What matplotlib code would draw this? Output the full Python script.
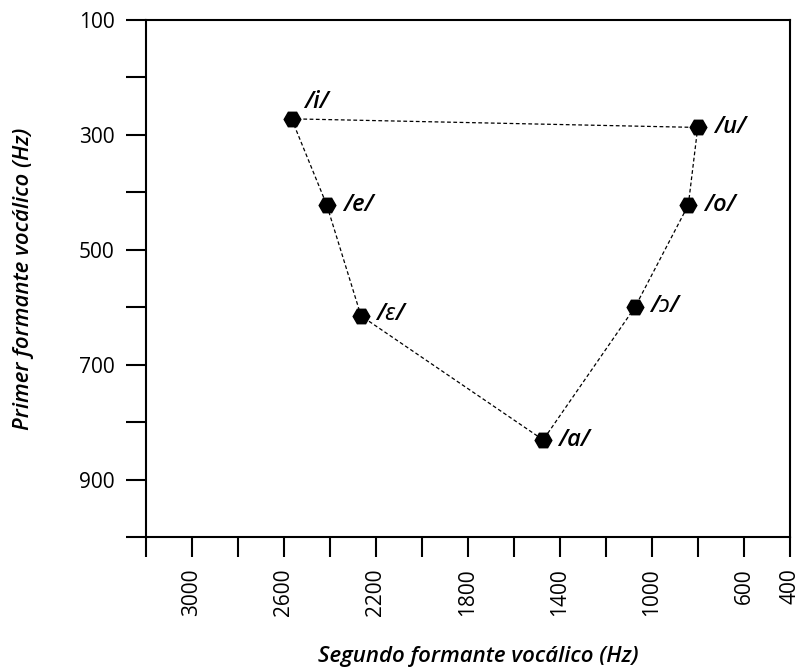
import matplotlib.pyplot as plt

plt.rcParams['font.family'] = ['Open Sans', 'Noto Sans', 'DejaVu Sans']

# Datos de formantes (Hz)
vocales = ["/i/", "/e/", "/ɛ/", "/a/", "/ɔ/", "/o/", "/u/"]
f2 = [2567, 2414, 2265, 1473, 1074, 842, 801]
f1 = [272, 422, 615, 831, 600, 422, 287]

# desplazamiento de cada etiqueta (puntos)
offsets = [(9, 12), (12, 0), (11, 1), (11, 0), (11, 1), (11, 0), (12, 0)]

xticks = [3200, 3000, 2800, 2600, 2400, 2200, 2000, 1800, 1600, 1400, 1200, 1000, 800, 600, 400]
xlabels = ["", "3000", "", "2600", "", "2200", "", "1800", "", "1400", "", "1000", "", "600", "400"]
yticks = [100, 200, 300, 400, 500, 600, 700, 800, 900, 1000]
ylabels = ["100", "", "300", "", "500", "", "700", "", "900", ""]

fig = plt.figure(figsize=(7.99, 6.72), dpi=100)
ax = fig.add_axes([0.1827, 0.2009, 0.806, 0.7693])

# Polígono vocálico cerrado
xs = f2 + [f2[0]]
ys = f1 + [f1[0]]
ax.plot(xs, ys, color='black', linewidth=0.9, linestyle=(0, (3, 2)), zorder=1)
ax.plot(f2, f1, linestyle='none', marker='H', markersize=12, color='black', zorder=2)

for v, x, y, off in zip(vocales, f2, f1, offsets):
    ax.annotate(v, (x, y), xytext=off, textcoords='offset points',
                ha='left', va='center', fontsize=17, fontstyle='italic',
                fontweight='semibold')

ax.set_xlim(3200, 400)
ax.set_ylim(1000, 100)
ax.set_xticks(xticks)
ax.set_xticklabels(xlabels, rotation=90, fontsize=15)
ax.set_yticks(yticks)
ax.set_yticklabels(ylabels, fontsize=15)
ax.tick_params(direction='out', length=14.5, width=1.5, pad=8)

for sp in ax.spines.values():
    sp.set_linewidth(1.5)

ax.set_xlabel("Segundo formante vocálico (Hz)", fontsize=16, fontstyle='italic',
              fontweight='semibold')
ax.xaxis.set_label_coords(0.516, -0.21)
ax.set_ylabel("Primer formante vocálico (Hz)", fontsize=16, fontstyle='italic',
              fontweight='semibold')
ax.yaxis.set_label_coords(-0.174, 0.5)

fig.savefig("out.png", dpi=100)
